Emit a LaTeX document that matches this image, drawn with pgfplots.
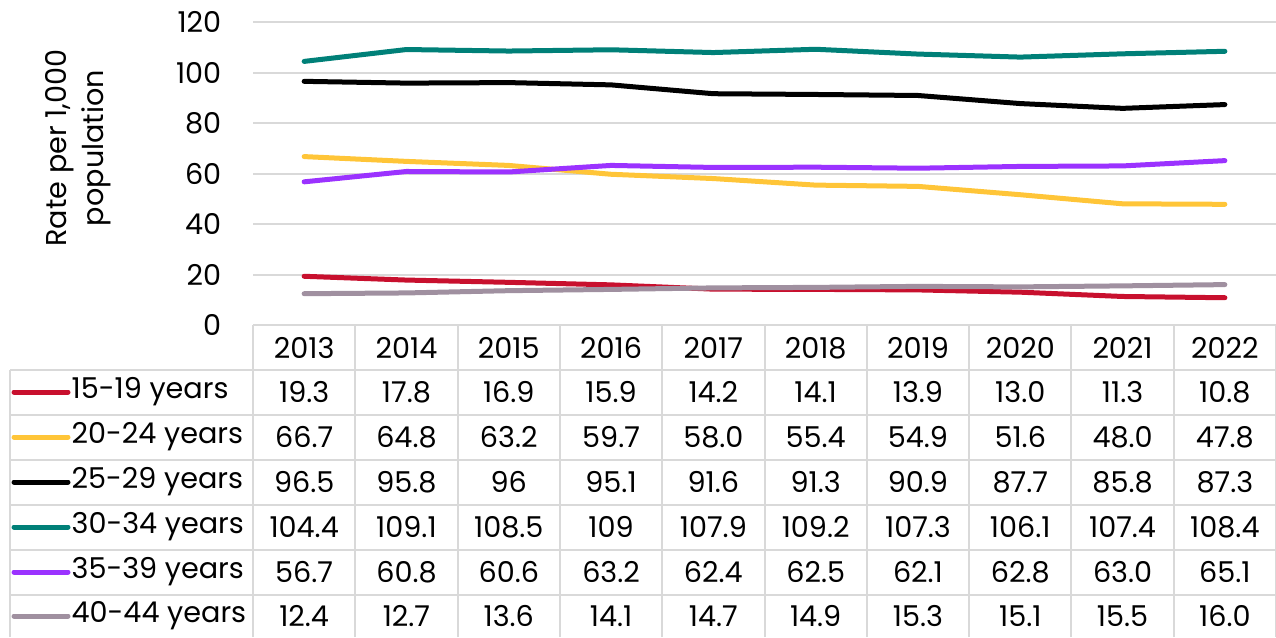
\documentclass[border=0pt]{standalone}
\usepackage{pgfplots}
\pgfplotsset{compat=1.18}
\usepackage{pgfplotstable}
\usepackage{fontspec}
\setmainfont{Poppins}

\definecolor{cA}{RGB}{200,16,46}
\definecolor{cB}{RGB}{255,197,56}
\definecolor{cC}{RGB}{0,0,0}
\definecolor{cD}{RGB}{0,128,120}
\definecolor{cE}{RGB}{155,50,255}
\definecolor{cF}{RGB}{160,144,160}
\definecolor{gridgray}{RGB}{217,217,217}

% rates per 1,000 population, by age group
\pgfplotstableread{
year a b c d e f
2013 19.3 66.7 96.5 104.4 56.7 12.4
2014 17.8 64.8 95.8 109.1 60.8 12.7
2015 16.9 63.2 96 108.5 60.6 13.6
2016 15.9 59.7 95.1 109 63.2 14.1
2017 14.2 58.0 91.6 107.9 62.4 14.7
2018 14.1 55.4 91.3 109.2 62.5 14.9
2019 13.9 54.9 90.9 107.3 62.1 15.3
2020 13.0 51.6 87.7 106.1 62.8 15.1
2021 11.3 48.0 85.8 107.4 63.0 15.5
2022 10.8 47.8 87.3 108.4 65.1 16.0
}\data

\begin{document}
\begin{tikzpicture}[x=0.3pt,y=0.3pt,font=\fontsize{8.6}{11}\selectfont]
\useasboundingbox (0,0) rectangle (1276,637);
\begin{axis}[
  at={(75.9pt,93.6pt)}, anchor=south west, scale only axis,
  width=306.9pt, height=90.9pt,
  xmin=0.5, xmax=10.5, ymin=0, ymax=120,
  ytick={0,20,...,120}, xtick=\empty,
  axis line style={draw=none}, major tick length=0pt,
  ymajorgrids, grid style={line width=0.6pt, gridgray},
  yticklabel style={xshift=-6pt, font=\fontsize{8.6}{11}\selectfont},
  /pgf/number format/assume math mode=true,
  clip=false,
  every axis plot/.append style={line width=1.5pt, line cap=round, line join=round},
]
\addplot[cA] table[x expr=\coordindex+1, y=a]{\data};
\addplot[cB] table[x expr=\coordindex+1, y=b]{\data};
\addplot[cC] table[x expr=\coordindex+1, y=c]{\data};
\addplot[cD] table[x expr=\coordindex+1, y=d]{\data};
\addplot[cE] table[x expr=\coordindex+1, y=e]{\data};
\addplot[cF] table[x expr=\coordindex+1, y=f]{\data};
\end{axis}

% y label
\node[rotate=90, align=center] at (78,489) {Rate per 1,000\\population};

% data table grid
\begin{scope}[gridgray, line width=0.6pt]
  \draw (253,312) -- (1276,312);
  \foreach \yy in {267,222,177,132,87,42} \draw (10,\yy) -- (1276,\yy);
  \draw (10,0) -- (10,267);
  \foreach \k in {0,...,10} \draw ({253+\k*102.3},0) -- ({253+\k*102.3},312);
\end{scope}

% header row
\foreach \i in {0,...,9} {
  \pgfplotstablegetelem{\i}{year}\of\data
  \node at ({253+(\i+0.5)*102.3},289) {\pgfplotsretval};
}

% series rows with legend keys
\foreach \s/\c/\yy/\lab in {a/cA/245/15-19 years, b/cB/200/20-24 years, c/cC/155/25-29 years, d/cD/110/30-34 years, e/cE/65/35-39 years, f/cF/21/40-44 years} {
  \draw[\c, line width=1.5pt, line cap=round] (14,\yy) -- (68,\yy);
  \node[anchor=west, inner sep=0pt] at (71,\yy) {\lab};
  \foreach \i in {0,...,9} {
    \pgfplotstablegetelem{\i}{\s}\of\data
    \node at ({253+(\i+0.5)*102.3},\yy) {\pgfplotsretval};
  }
}
\end{tikzpicture}
\end{document}
